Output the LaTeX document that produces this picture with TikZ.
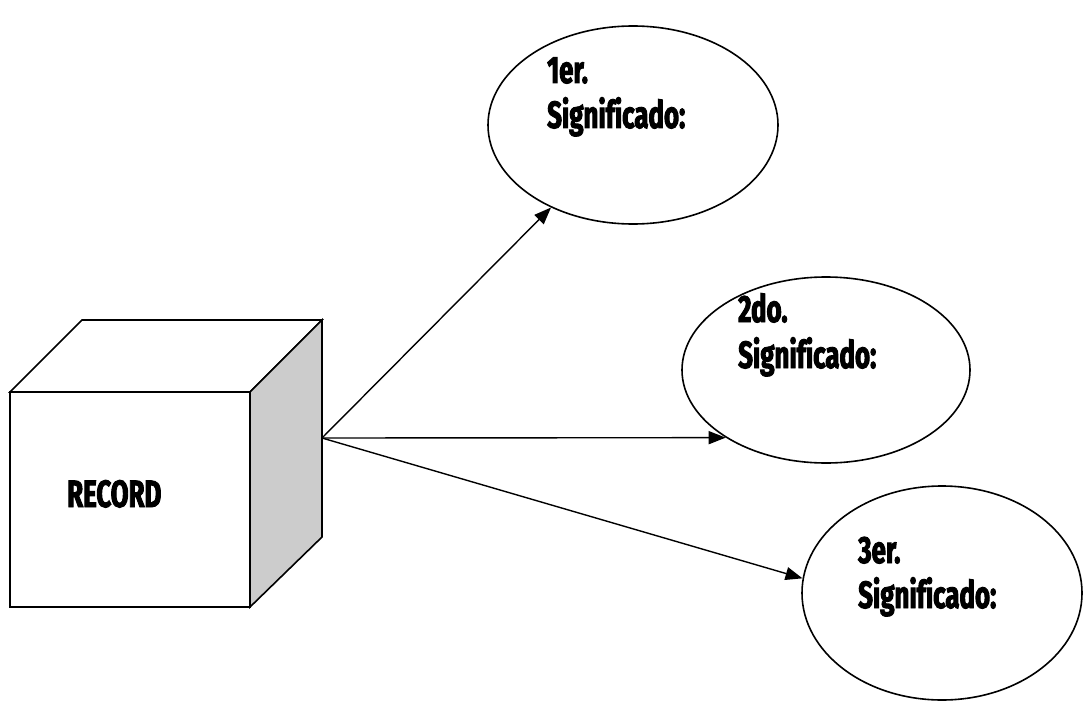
\documentclass[tikz,border=0pt]{standalone}
\usepackage{fontspec}
\newfontfamily\sigfont[FakeStretch=0.68,FakeBold=2.5,Ligatures=NoCommon]{Fira Sans}
\usetikzlibrary{shapes.geometric,arrows.meta}
\definecolor{sidegray}{HTML}{CCCCCC}
\tikzset{
  edge/.style={line width=1.6pt, line join=miter},
  conn/.style={line width=1.4pt, -{Triangle[length=17pt,width=13pt]}},
  oval/.style={ellipse, draw, line width=1.6pt, inner sep=0pt},
  lbl/.style={anchor=base west, inner sep=0pt, font=\sigfont\bfseries\fontsize{38}{44}\selectfont}
}
\begin{document}
\begin{tikzpicture}[x=1pt,y=-1pt]
\useasboundingbox (0,0) rectangle (1083,706);
% cube
\draw[edge, fill=white] (10,392) -- (82,320) -- (322,320) -- (250,392) -- cycle;
\draw[edge, fill=sidegray] (250,392) -- (322,320) -- (322,537) -- (250,607) -- cycle;
\draw[edge, fill=white] (10,392) rectangle (250,607);
\node[lbl] (rec) at (67,507) {RECORD};
\coordinate (src) at (322,438);
% ellipses
\node[oval, minimum width=290pt, minimum height=198pt] (e1) at (633,125) {};
\node[oval, minimum width=288pt, minimum height=186pt] (e2) at (826,370) {};
\node[oval, minimum width=280pt, minimum height=214pt] (e3) at (942,593) {};
\node[lbl] (t1a) at (547,83) {1er.};
\node[lbl] (t1b) at (547,128) {Significado:};
\node[lbl] (t2a) at (738,322) {2do.};
\node[lbl] (t2b) at (738,368) {Significado:};
\node[lbl] (t3a) at (858,563) {3er.};
\node[lbl] (t3b) at (858,608) {Significado:};
% connectors
\draw[conn] (src) -- (e1);
\draw[conn] (src) -- (e2.214);
\draw[conn] (src) -- (e3.174);
\end{tikzpicture}
\end{document}
